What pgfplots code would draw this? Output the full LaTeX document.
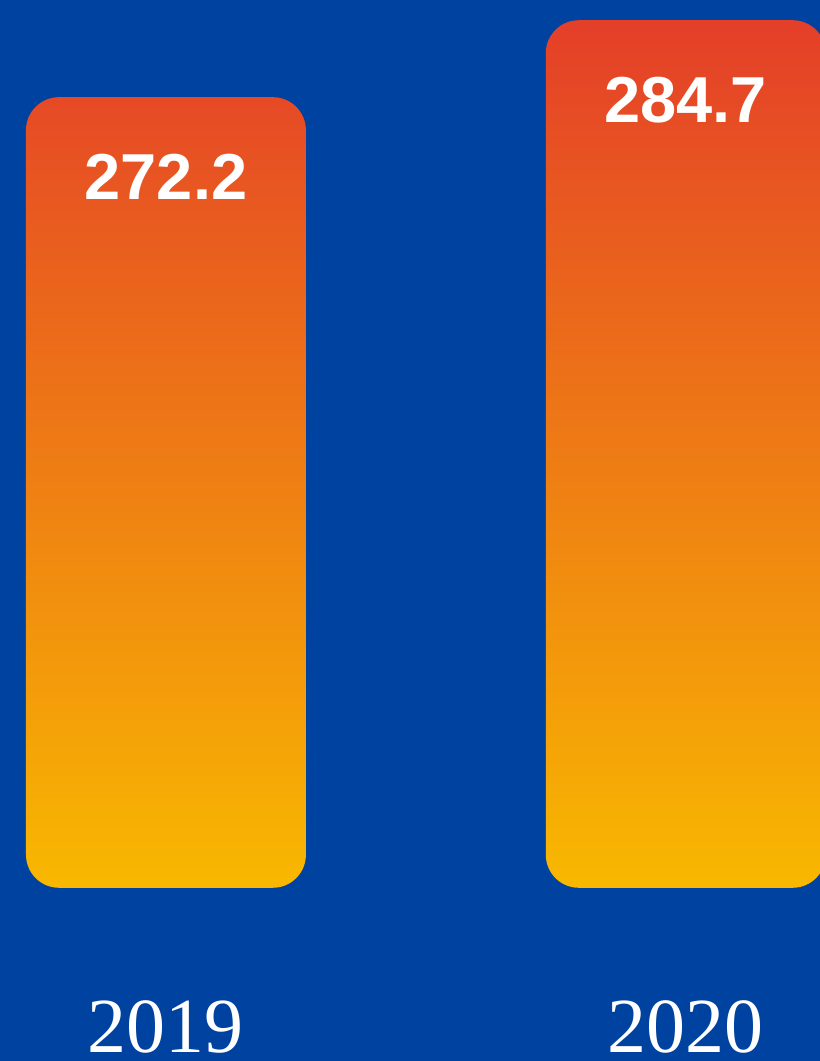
\documentclass[border=0pt]{standalone}
\usepackage{pgfplots}
\pgfplotsset{compat=1.18}
\usepackage{pgfplotstable}
\usepackage{fontspec}
\setmainfont{Liberation Serif}
\newfontfamily\valfont{Liberation Sans}
\definecolor{bgblue}{HTML}{0042A0}
\definecolor{bartop}{HTML}{E43F29}
\definecolor{barbot}{HTML}{F8B800}

\pgfplotstableread{
x v label
0 272.2 272.2
1 284.7 284.7
}\datatable

\begin{document}
\begin{tikzpicture}
\begin{axis}[
  width=410pt, height=530.5pt, scale only axis,
  xmin=-0.31923, xmax=1.25769,
  ymin=-28.1, ymax=144.15,
  axis background/.style={fill=bgblue},
  axis line style={draw=none},
  ytick=\empty,
  xtick={0,1}, xticklabels={2019,2020},
  major tick length=0pt,
  xticklabel style={anchor=base, inner sep=0pt, yshift=4pt, font=\fontsize{39}{39}\selectfont, text=white},
  ybar, bar width=140pt,
  clip=true,
]
\addplot[draw=none, top color=bartop, bottom color=barbot, rounded corners=16.5pt,
  nodes near coords={\pgfplotspointmeta},
  point meta=explicit symbolic,
  nodes near coords style={anchor=center, yshift=-40pt, text=white, font=\valfont\bfseries\fontsize{32.5}{32.5}\selectfont}]
  table[x=x, y expr=\thisrow{v}-143.8, meta=label] {\datatable};
\end{axis}
\end{tikzpicture}
\end{document}
